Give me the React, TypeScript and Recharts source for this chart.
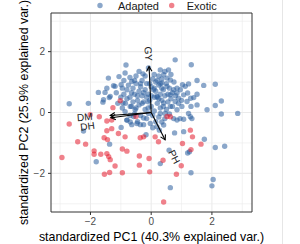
import React from "react";
import { ScatterChart, Scatter, XAxis, YAxis, CartesianGrid, ReferenceArea } from "recharts";

const groups = ["Adapted", "Exotic"];
const groupColors = ["#2c5f9e", "#e31a2c"];

const xTitle = "standardized PC1 (40.3% explained var.)";
const yTitle = "standardized PC2 (25.9% explained var.)";
const axisTicks = [-2, 0, 2];
const minorTicks = [-3, -1, 1, 3];

const adaptedPoints: [number, number][] = [
  [-2.7, 0.29], [-2.07, 0.3], [-1.59, 0.34], [-1.74, 0.66], [-1.52, 0.66], [-1.38, 0.49], [-1.24, 0.88],
  [-1.46, 0.8], [-0.99, 0.91], [-1.06, 1.18], [-0.86, 1.3], [-0.83, 1.56], [-1.41, 1.13], [-1.57, 0.42],
  [-1.35, 0.53], [-1.19, 0.86], [-2.23, -0.61], [-0.99, -0.49], [-1.37, -1.04], [-1.81, -1.62],
  [-0.64, -0.4], [-0.25, -0.18], [-0.17, -0.73], [2.31, -0.05], [2.85, -0.03], [1.75, -0.88], [2.11, -1.15],
  [2.42, -1.11], [1.26, -1.29], [1.2, -1.33], [1.07, -0.63], [0.77, -0.67], [0.59, -1.24], [1.31, -1.98],
  [0.3, -1.68], [0.63, -2.47], [2.04, -2.2], [2.0, -2.41], [1.29, -0.14], [1.07, -0.22], [0.85, -0.25],
  [0.95, -0.2], [0.41, -0.41], [0.19, -0.47], [0.27, -0.58], [0.79, 1.73], [1.32, 1.57], [1.51, 1.05],
  [1.73, 0.89], [2.11, 0.93], [1.23, 0.94], [1.03, 0.91], [1.51, 0.6], [1.4, 0.49], [1.3, 0.47], [1.2, 0.64],
  [2.31, 0.38], [2.11, 0.23], [1.84, 0.09], [1.31, 0.2], [0.3, 1.4], [0.57, 1.4], [0.45, 1.35], [0.52, 1.13],
  [0.63, 1.07], [0.25, 1.2], [-0.27, 1.27], [-0.09, 1.46], [0.41, 1.24], [-0.64, 1.02],
  [0.9, 0.47], [0.79, 0.36], [0.63, 0.58], [0.35, 0.97], [0.52, 0.86], [0.74, 0.75], [0.85, 0.64],
  [1.51, 0.25], [1.07, 0.58], [1.18, 0.36], [1.01, 0.2], [0.85, 0.09], [0.63, 0.2], [0.41, 0.31],
  [0.19, 0.53], [0.08, 0.75], [0.96, 0.75], [1.12, 0.86], [0.3, -0.03], [0.46, -0.03], [0.74, -0.2],
  [1.23, -0.03], [1.34, -0.2], [-0.03, -0.36], [0.35, -0.31],
  [-0.9, 0.6], [-0.8, 0.75], [-0.7, 0.5], [-0.75, 0.9], [-0.6, 0.8], [-0.55, 0.6], [-0.5, 0.95],
  [-0.45, 0.4], [-0.4, 0.7], [-0.35, 0.85], [-0.3, 0.55], [-0.3, 1.05], [-0.25, 0.35], [-0.2, 0.75],
  [-0.15, 0.95], [-0.1, 0.6], [-0.05, 0.4], [0.0, 0.85], [0.05, 1.1], [0.1, 0.5], [0.15, 0.7], [0.2, 0.3],
  [0.25, 0.9], [0.3, 0.6], [0.35, 0.4], [0.4, 0.75], [0.45, 0.55], [0.5, 0.95], [0.55, 0.35], [0.6, 0.8],
  [-0.85, 0.3], [-0.65, 0.2], [-0.5, 0.15], [-0.4, 0.25], [-0.2, 0.1], [0.0, 0.2], [0.1, 0.05], [0.3, 0.15],
  [0.5, 0.1], [0.7, 0.2], [-0.95, 0.15], [-1.1, 0.3], [-1.0, 0.5], [-1.15, 0.65], [-0.9, 1.05], [-0.7, 1.15],
  [-0.5, 1.2], [-0.4, 1.35], [-0.2, 1.2], [0.1, 1.25], [0.2, 1.05], [0.35, 1.1], [0.65, 1.25], [0.75, 1.0],
  [-0.7, -0.1], [-0.55, -0.05], [-0.35, -0.1], [-0.15, -0.2], [0.05, -0.1], [0.25, -0.15], [0.45, -0.2],
  [0.6, -0.05], [-0.8, -0.25], [-0.45, -0.3], [0.15, -0.3], [-0.25, -0.4], [0.05, -0.5],
  [-0.6, 0.35], [-0.3, 0.3], [-0.1, 0.35], [0.0, 0.55], [0.2, 0.5], [0.35, 0.8], [-0.15, 0.5], [-0.45, 0.55],
  [-0.65, 0.65], [-0.25, 0.65], [0.1, 0.8], [0.25, 0.45], [0.55, 0.6], [0.65, 0.45], [0.8, 0.55], [0.85, 0.8],
  [0.9, 0.3], [1.0, 0.4], [-0.05, 0.95], [0.15, 1.0], [-0.35, 0.95], [-0.55, 1.05], [-0.1, 0.15], [0.4, 0.2],
  [-0.8, 0.45], [-0.95, 0.8], [0.7, 0.65], [0.3, 0.95],
  [-0.93, 0.31], [-0.69, 0.2], [-0.53, 0.09], [-0.86, 0.03], [-0.58, -0.13], [-0.36, -0.4],
  [-0.8, -0.25], [-0.69, -0.31], [-0.47, -0.36], [-0.09, -0.03],
];

const exoticPoints: [number, number][] = [
  [-2.7, -0.38], [-2.01, -0.07], [-1.71, -0.14], [-1.46, -0.6], [-1.3, -0.53], [-1.08, -0.69], [-0.86, -0.8],
  [-1.55, -0.83], [-1.44, -0.89], [-2.42, -0.96], [-2.16, -1.04], [-1.88, -1.26], [-1.88, -1.37],
  [-1.66, -1.37], [-1.46, -1.35], [-1.4, -1.45], [-1.35, -1.55], [-0.95, -1.2], [-0.8, -1.27], [-1.19, -1.76],
  [-1.54, -2.03], [-1.37, -1.97], [-0.95, -1.98], [-2.94, -1.48], [-0.39, -1.43], [-0.39, -1.73],
  [-0.05, -1.95], [-0.07, -1.51], [-0.36, -0.83], [-0.25, -0.8], [-1.3, -0.25], [-1.46, -0.28],
  [-1.02, 0.39], [-1.26, 0.16], [-0.5, -0.13],
  [1.64, -1.04], [1.31, -1.22], [1.36, -0.8], [1.29, -0.58], [1.03, -1.02], [0.99, -1.75], [0.83, -2.03],
  [0.39, -1.57], [0.41, -2.94], [0.24, -0.96], [0.13, -0.8], [0.63, -0.14], [0.52, -0.13],
];

const arrowNames = ["GY", "DM", "DH", "PH"];
const arrowX = [-0.07, -1.35, -1.33, 0.46];
const arrowY = [1.51, -0.1, -0.17, -0.9];
const labelX = [-0.09, -2.19, -2.1, 0.76];
const labelY = [1.93, -0.15, -0.45, -1.46];
const labelAngle = [87, -5, -8, 63];

const font = "'Liberation Sans', Arial, Helvetica, sans-serif";

const toData = (pts: [number, number][]) => pts.map(([x, y]) => ({ x, y }));

const makeDot = (color: string) => (p: any) => (
  <circle cx={p.cx} cy={p.cy} r={2.7} fill={color} fillOpacity={0.55} />
);

const ArrowHead = (p: any) => {
  if (!p.payload || !p.payload.tip) return <g />;
  const ang = Math.atan2(-p.payload.y, p.payload.x);
  const L = 5.5;
  const s = Math.PI / 6;
  const a1 = ang + Math.PI - s;
  const a2 = ang + Math.PI + s;
  return (
    <path
      d={`M${p.cx + L * Math.cos(a1)},${p.cy + L * Math.sin(a1)} L${p.cx},${p.cy} L${p.cx + L * Math.cos(a2)},${p.cy + L * Math.sin(a2)}`}
      fill="none"
      stroke="#000"
      strokeWidth={1.1}
    />
  );
};

const VarLabel = (p: any) => (
  <text
    x={p.cx}
    y={p.cy}
    transform={`rotate(${p.payload.angle} ${p.cx} ${p.cy})`}
    textAnchor="middle"
    dominantBaseline="central"
    fontSize={10}
    fontFamily={font}
    fill="#1a1a1a"
  >
    {p.payload.name}
  </text>
);

const labelData = arrowNames.map((n, i) => ({ x: labelX[i], y: labelY[i], name: n, angle: labelAngle[i] }));

const fmt = (v: number) => (v < 0 ? "\u2212" + Math.abs(v) : String(v));

export default function App() {
  return (
    <div style={{ position: "absolute", left: 0, top: 0, width: 300, height: 244, background: "#fff", overflow: "hidden" }}>
      <ScatterChart width={300} height={244} margin={{ top: 13, right: 48, bottom: 0, left: 0 }}>
        <CartesianGrid verticalValues={minorTicks} horizontalValues={minorTicks} stroke="#ebebeb" strokeWidth={0.6} />
        <CartesianGrid verticalValues={axisTicks} horizontalValues={axisTicks} stroke="#ebebeb" strokeWidth={1.1} />
        <XAxis
          type="number"
          dataKey="x"
          domain={[-3.3, 3.32]}
          allowDataOverflow
          ticks={axisTicks}
          tickFormatter={fmt}
          height={32}
          tickSize={3}
          tickMargin={3}
          axisLine={false}
          tickLine={{ stroke: "#333" }}
          tick={{ fill: "#4d4d4d", fontSize: 10, fontFamily: font }}
          label={{
            content: (props: any) => {
              const vb = props.viewBox || { x: 51, width: 201, y: 212 };
              return (
                <text x={vb.x + vb.width / 2} y={240.5} textAnchor="middle" fontSize={12.4} fontFamily={font} fill="#000">
                  {xTitle}
                </text>
              );
            },
          }}
        />
        <YAxis
          type="number"
          dataKey="y"
          domain={[-3.27, 3.27]}
          allowDataOverflow
          ticks={axisTicks}
          tickFormatter={fmt}
          width={51}
          tickSize={3}
          tickMargin={3}
          axisLine={false}
          tickLine={{ stroke: "#333" }}
          tick={{ fill: "#4d4d4d", fontSize: 10, fontFamily: font }}
          label={{
            content: (props: any) => {
              const vb = props.viewBox || { y: 13, height: 199 };
              const cy = vb.y + vb.height / 2;
              return (
                <text x={27.5} y={cy} transform={`rotate(-90 27.5 ${cy})`} textAnchor="middle" fontSize={12.4} fontFamily={font} fill="#000">
                  {yTitle}
                </text>
              );
            },
          }}
        />
        <Scatter name={groups[0]} data={toData(adaptedPoints)} shape={makeDot(groupColors[0])} isAnimationActive={false} />
        <Scatter name={groups[1]} data={toData(exoticPoints)} shape={makeDot(groupColors[1])} isAnimationActive={false} />
        {arrowNames.map((n, i) => (
          <Scatter
            key={n}
            name={n}
            data={[{ x: 0, y: 0, tip: false }, { x: arrowX[i], y: arrowY[i], tip: true }]}
            line={{ stroke: "#000", strokeWidth: 1.1 }}
            shape={ArrowHead}
            isAnimationActive={false}
          />
        ))}
        <Scatter name="labels" data={labelData} shape={VarLabel} isAnimationActive={false} />
        <ReferenceArea x1={-3.3} x2={3.32} y1={-3.27} y2={3.27} fill="none" stroke="#333" strokeWidth={1} ifOverflow="visible" />
      </ScatterChart>
      <svg width={300} height={244} style={{ position: "absolute", left: 0, top: 0, pointerEvents: "none" }}>
        <line x1={282.5} y1={0} x2={282.5} y2={244} stroke="#e6e6e6" strokeWidth={1} />
        <circle cx={100} cy={5.5} r={2.7} fill={groupColors[0]} fillOpacity={0.55} />
        <text x={118} y={9.6} fontSize={11} fontFamily={font} fill="#1a1a1a">{groups[0]}</text>
        <circle cx={171.7} cy={5.5} r={2.7} fill={groupColors[1]} fillOpacity={0.55} />
        <text x={186.7} y={9.6} fontSize={11} fontFamily={font} fill="#1a1a1a">{groups[1]}</text>
      </svg>
    </div>
  );
}
